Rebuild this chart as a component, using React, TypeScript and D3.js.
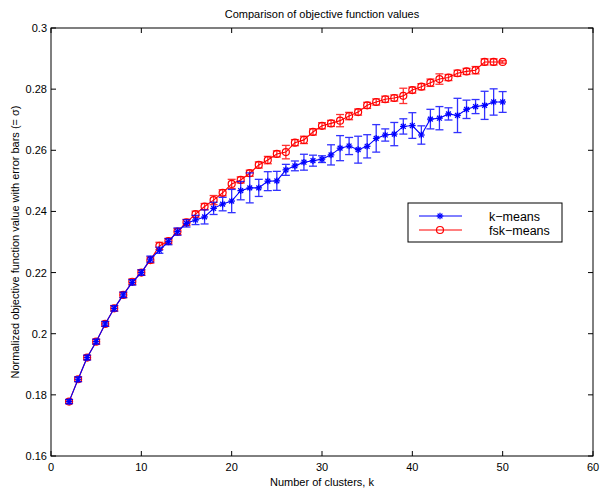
import React from "react";
import * as d3 from "d3";

const ks = d3.range(2, 51);
const kmeans = [0.1778,0.1851,0.1922,0.1974,0.2032,0.2083,0.2127,0.2168,0.2200,0.2244,0.2273,0.2301,0.2334,0.2361,0.2372,0.2382,0.2410,0.2424,0.2434,0.2468,0.2477,0.2477,0.2499,0.2500,0.2536,0.2549,0.2561,0.2566,0.2571,0.2585,0.2607,0.2614,0.2602,0.2613,0.2639,0.2650,0.2653,0.2678,0.2681,0.2650,0.2702,0.2705,0.2719,0.2714,0.2734,0.2743,0.2747,0.2758,0.2758];
const kmeansErr = [0.0007,0.0008,0.0008,0.0008,0.0008,0.0009,0.0009,0.0009,0.0009,0.0010,0.0010,0.0010,0.0012,0.0012,0.0015,0.0023,0.0020,0.0022,0.0038,0.0030,0.0049,0.0028,0.0031,0.0031,0.0018,0.0016,0.0026,0.0018,0.0011,0.0033,0.0041,0.0028,0.0044,0.0038,0.0045,0.0020,0.0038,0.0025,0.0042,0.0030,0.0032,0.0038,0.0020,0.0056,0.0030,0.0023,0.0046,0.0043,0.0034];
const fskmeans = [0.1778,0.1851,0.1922,0.1974,0.2032,0.2083,0.2127,0.2170,0.2200,0.2241,0.2287,0.2303,0.2334,0.2364,0.2391,0.2416,0.2437,0.2461,0.2490,0.2503,0.2525,0.2552,0.2568,0.2588,0.2594,0.2625,0.2634,0.2660,0.2680,0.2688,0.2697,0.2712,0.2725,0.2747,0.2758,0.2767,0.2771,0.2778,0.2797,0.2808,0.2821,0.2833,0.2838,0.2852,0.2858,0.2862,0.2889,0.2889,0.2889];
const fskmeansErr = [0.0006,0.0007,0.0007,0.0008,0.0008,0.0009,0.0009,0.0009,0.0009,0.0010,0.0012,0.0009,0.0010,0.0010,0.0010,0.0010,0.0015,0.0010,0.0015,0.0010,0.0010,0.0010,0.0012,0.0010,0.0022,0.0010,0.0012,0.0010,0.0010,0.0010,0.0020,0.0012,0.0010,0.0010,0.0010,0.0010,0.0010,0.0025,0.0010,0.0010,0.0012,0.0017,0.0010,0.0010,0.0010,0.0012,0.0010,0.0010,0.0004];
const xTicks = [0, 10, 20, 30, 40, 50, 60];
const yTicks = [0.16, 0.18, 0.2, 0.22, 0.24, 0.26, 0.28, 0.3];

const W = 600, H = 492;
const L = 51, R = 593, T = 28, B = 456;
const FONT = "'Liberation Sans', Arial, Helvetica, sans-serif";

function Series({ vals, errs, color, marker }: { vals: number[]; errs: number[]; color: string; marker: "star" | "circle" }) {
  const x = d3.scaleLinear().domain([0, 60]).range([L, R]);
  const y = d3.scaleLinear().domain([0.16, 0.3]).range([B, T]);
  const line = d3.line<number>().x((_, i) => x(ks[i])).y((v) => y(v));
  const cap = 4;
  return (
    <g>
      {vals.map((v, i) => {
        const cx = x(ks[i]);
        const y1 = y(v + errs[i]);
        const y2 = y(v - errs[i]);
        return (
          <g key={"e" + i} stroke={color} strokeWidth={1.3} opacity={0.8}>
            <line x1={cx} x2={cx} y1={y1} y2={y2} />
            <line x1={cx - cap} x2={cx + cap} y1={y1} y2={y1} />
            <line x1={cx - cap} x2={cx + cap} y1={y2} y2={y2} />
          </g>
        );
      })}
      <path d={line(vals) || ""} fill="none" stroke={color} strokeWidth={1.1} />
      {vals.map((v, i) => {
        const cx = x(ks[i]);
        const cy = y(v);
        if (marker === "circle") {
          return <circle key={"m" + i} cx={cx} cy={cy} r={3.5} fill="none" stroke={color} strokeWidth={1.2} />;
        }
        const s = 3.3, d = 2.4;
        return (
          <g key={"m" + i} stroke={color} strokeWidth={1.3}>
            <line x1={cx - s} x2={cx + s} y1={cy} y2={cy} />
            <line x1={cx} x2={cx} y1={cy - s} y2={cy + s} />
            <line x1={cx - d} x2={cx + d} y1={cy - d} y2={cy + d} />
            <line x1={cx - d} x2={cx + d} y1={cy + d} y2={cy - d} />
          </g>
        );
      })}
    </g>
  );
}

export default function App() {
  const x = d3.scaleLinear().domain([0, 60]).range([L, R]);
  const y = d3.scaleLinear().domain([0.16, 0.3]).range([B, T]);
  const tl = 5;
  return (
    <svg width={W} height={H} style={{ position: "absolute", left: 0, top: 0, background: "#fff" }} fontFamily={FONT}>
      <rect x={0} y={0} width={W} height={H} fill="#fff" />
      <Series vals={fskmeans} errs={fskmeansErr} color="#ff0000" marker="circle" />
      <Series vals={kmeans} errs={kmeansErr} color="#0000ff" marker="star" />
      <rect x={L} y={T} width={R - L} height={B - T} fill="none" stroke="#000" strokeWidth={1} />
      {xTicks.map((t) => (
        <g key={"x" + t}>
          <line x1={x(t)} x2={x(t)} y1={B} y2={B - tl} stroke="#000" />
          <line x1={x(t)} x2={x(t)} y1={T} y2={T + tl} stroke="#000" />
          <text x={x(t)} y={B + 15} fontSize={11} textAnchor="middle">{t}</text>
        </g>
      ))}
      {yTicks.map((t) => (
        <g key={"y" + t}>
          <line x1={L} x2={L + tl} y1={y(t)} y2={y(t)} stroke="#000" />
          <line x1={R} x2={R - tl} y1={y(t)} y2={y(t)} stroke="#000" />
          <text x={L - 4} y={y(t) + 4} fontSize={11} textAnchor="end">{d3.format("")(+t.toFixed(2))}</text>
        </g>
      ))}
      <text x={(L + R) / 2} y={18} fontSize={11} textAnchor="middle">Comparison of objective function values</text>
      <text x={(L + R) / 2} y={486} fontSize={11} textAnchor="middle">Number of clusters, k</text>
      <text transform={`translate(19, ${(T + B) / 2}) rotate(-90)`} fontSize={11} textAnchor="middle">Normalized objective function value with error bars (= σ)</text>
      <g>
        <rect x={408} y={203} width={154} height={39} fill="#fff" stroke="#000" strokeWidth={1} />
        <line x1={419} x2={462} y1={216} y2={216} stroke="#0000ff" />
        <g stroke="#0000ff" strokeWidth={1.3}>
          <line x1={436.7} x2={443.3} y1={216} y2={216} />
          <line x1={440} x2={440} y1={212.7} y2={219.3} />
          <line x1={437.6} x2={442.4} y1={213.6} y2={218.4} />
          <line x1={437.6} x2={442.4} y1={218.4} y2={213.6} />
        </g>
        <line x1={419} x2={462} y1={230} y2={230} stroke="#ff0000" />
        <circle cx={440} cy={230} r={3.5} fill="none" stroke="#ff0000" strokeWidth={1.2} />
        <text x={489} y={220.5} fontSize={12.5}>k−means</text>
        <text x={489} y={234.5} fontSize={12.5}>fsk−means</text>
      </g>
    </svg>
  );
}
